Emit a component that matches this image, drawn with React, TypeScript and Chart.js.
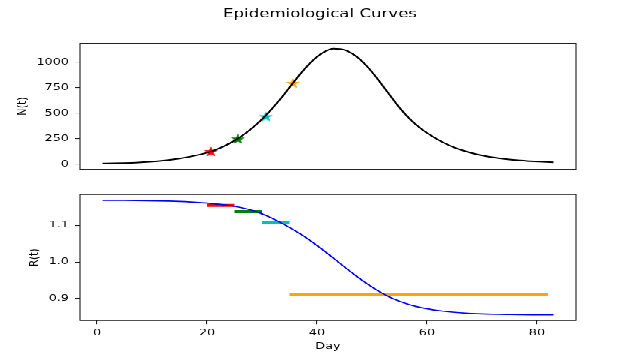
import React, { useEffect, useRef } from "react";
import { Chart, registerables } from "chart.js";
Chart.register(...registerables);

// ---- data ----
const days = [1, 3, 5, 7, 9, 11, 13, 15, 17, 19, 21, 23, 25, 27, 29, 31, 33, 35, 37, 39, 41, 43, 45, 47, 49, 51, 53, 55, 57, 59, 61, 63, 65, 67, 69, 71, 73, 75, 77, 79, 81, 83];
const infections = [7, 9, 12, 16, 22, 30, 41, 56, 75, 99, 130, 174, 231, 303, 391, 496, 618, 753, 888, 1006, 1091, 1133, 1121, 1063, 966, 838, 695, 555, 437, 345, 273, 212, 164, 127, 98, 76, 60, 47, 38, 30, 24, 19];
const rValues = [1.168, 1.168, 1.1678, 1.1675, 1.1671, 1.1665, 1.1657, 1.1647, 1.1633, 1.1614, 1.1589, 1.1557, 1.1513, 1.1453, 1.1368, 1.1248, 1.1103, 1.0938, 1.0758, 1.0558, 1.0338, 1.0103, 0.9863, 0.9633, 0.9418, 0.9223, 0.9058, 0.8928, 0.8828, 0.8753, 0.8698, 0.8658, 0.8628, 0.8606, 0.859, 0.8579, 0.8571, 0.8566, 0.8562, 0.8559, 0.8557, 0.8556];

const starDays = [20.7, 25.6, 30.7, 35.6];
const starN = [124, 248, 467, 794];
const markColors = ["#ff0000", "#008000", "#00bfbf", "#ffa500"];

const segStart = [20, 25, 30, 35];
const segEnd = [25, 30, 35, 82];
const segR = [1.154, 1.137, 1.108, 0.912];

const nTicks = [0, 250, 500, 750, 1000];
const rTicks = [0.9, 1.0, 1.1];
const dayTicks = [0, 20, 40, 60, 80];

const TITLE = "Epidemiological Curves";
const FONT = "'DejaVu Sans', sans-serif";
const INK = "#1a1a1a";
const TEXT = "#000";

function makeStar(color: string): HTMLCanvasElement {
  const c = document.createElement("canvas");
  c.width = 16;
  c.height = 16;
  const ctx = c.getContext("2d")!;
  ctx.beginPath();
  for (let i = 0; i < 10; i++) {
    const r = i % 2 ? 2.5 : 6.6;
    const a = -Math.PI / 2 + (i * Math.PI) / 5;
    ctx.lineTo(8 + r * Math.cos(a), 8.5 + r * Math.sin(a));
  }
  ctx.closePath();
  ctx.fillStyle = color;
  ctx.fill();
  ctx.strokeStyle = color;
  ctx.lineWidth = 0.8;
  ctx.stroke();
  return c;
}

const framePlugin = {
  id: "frame",
  afterDatasetsDraw(chart: any) {
    const { ctx, chartArea: a } = chart;
    ctx.save();
    ctx.strokeStyle = INK;
    ctx.lineWidth = 1.1;
    ctx.strokeRect(a.left, a.top, a.right - a.left, a.bottom - a.top);
    ctx.restore();
  },
};

const titlePlugin = {
  id: "suptitle",
  afterDraw(chart: any) {
    const { ctx } = chart;
    ctx.save();
    ctx.font = `16.6px ${FONT}`;
    ctx.fillStyle = TEXT;
    ctx.textAlign = "center";
    ctx.textBaseline = "alphabetic";
    ctx.fillText(TITLE, 320, 22.5);
    ctx.restore();
  },
};

const tickFont = { family: FONT, size: 12.8 };

function yAxis(min: number, max: number, ticks: number[], title: string, width: number, fmt: (v: number) => string) {
  return {
    type: "linear",
    min,
    max,
    afterBuildTicks: (s: any) => {
      s.ticks = ticks.map((v) => ({ value: v }));
    },
    afterFit: (s: any) => {
      s.width = width;
    },
    ticks: { font: tickFont, color: TEXT, padding: 6, callback: (v: any) => fmt(Number(v)) },
    grid: { drawOnChartArea: false, drawTicks: true, tickLength: 5, color: INK, lineWidth: 1.1 },
    border: { display: false },
    title: { display: true, text: title, font: tickFont, color: TEXT, padding: 0 },
  };
}

export default function App() {
  const topRef = useRef<HTMLCanvasElement>(null);
  const botRef = useRef<HTMLCanvasElement>(null);

  useEffect(() => {
    const stars = markColors.map(makeStar);
    const top = new Chart(topRef.current!, {
      type: "line",
      data: {
        datasets: [
          {
            data: days.map((d, i) => ({ x: d, y: infections[i] })),
            borderColor: "#000",
            borderWidth: 2,
            pointRadius: 0,
            cubicInterpolationMode: "monotone",
          },
          {
            data: starDays.map((d, i) => ({ x: d, y: starN[i] })),
            showLine: false,
            pointStyle: stars as any,
            pointRadius: 6,
            borderWidth: 0,
          },
        ],
      },
      options: {
        responsive: false,
        maintainAspectRatio: false,
        devicePixelRatio: 1,
        animation: false,
        layout: { padding: { left: 15, top: 57.6, right: 64, bottom: 480 - 225.6 } },
        scales: {
          x: { type: "linear", display: false, min: -3.1, max: 87.1 },
          y: yAxis(-50, 1186, nTicks, "N(t)", 65, (v) => String(v)) as any,
        },
        plugins: { legend: { display: false }, tooltip: { enabled: false } },
      },
      plugins: [framePlugin, titlePlugin],
    } as any);

    const segDatasets = segStart.map((s, i) => ({
      data: [
        { x: s, y: segR[i] },
        { x: segEnd[i], y: segR[i] },
      ],
      borderColor: markColors[i],
      borderWidth: 4,
      pointRadius: 0,
      borderCapStyle: "butt",
    }));

    const bot = new Chart(botRef.current!, {
      type: "line",
      data: {
        datasets: [
          {
            data: days.map((d, i) => ({ x: d, y: rValues[i] })),
            borderColor: "#0000ff",
            borderWidth: 1.7,
            pointRadius: 0,
            cubicInterpolationMode: "monotone",
          },
          ...segDatasets,
        ],
      },
      options: {
        responsive: false,
        maintainAspectRatio: false,
        devicePixelRatio: 1,
        animation: false,
        layout: { padding: { left: 27.3, top: 259.2, right: 64, bottom: 10.3 } },
        scales: {
          x: {
            type: "linear",
            min: -3.1,
            max: 87.1,
            afterBuildTicks: (s: any) => {
              s.ticks = dayTicks.map((v) => ({ value: v }));
            },
            afterFit: (s: any) => {
              s.height = 42.5;
            },
            ticks: { font: tickFont, color: TEXT, padding: 4, maxRotation: 0 },
            grid: { drawOnChartArea: false, drawTicks: true, tickLength: 5, color: INK, lineWidth: 1.1 },
            border: { display: false },
            title: { display: true, text: "Day", font: tickFont, color: TEXT, padding: 0 },
          },
          y: yAxis(0.8404, 1.1836, rTicks, "R(t)", 80 - 27.3, (v) => v.toFixed(1)) as any,
        },
        plugins: { legend: { display: false }, tooltip: { enabled: false } },
      },
      plugins: [framePlugin],
    } as any);

    return () => {
      top.destroy();
      bot.destroy();
    };
  }, []);

  return (
    <div
      style={{
        position: "absolute",
        left: 0,
        top: 0,
        width: 640,
        height: 480,
        background: "#fff",
        transform: "scale(1, 0.75)",
        transformOrigin: "0 0",
      }}
    >
      <canvas ref={topRef} width={640} height={480} style={{ position: "absolute", left: 0, top: 0 }} />
      <canvas ref={botRef} width={640} height={480} style={{ position: "absolute", left: 0, top: 0 }} />
    </div>
  );
}
